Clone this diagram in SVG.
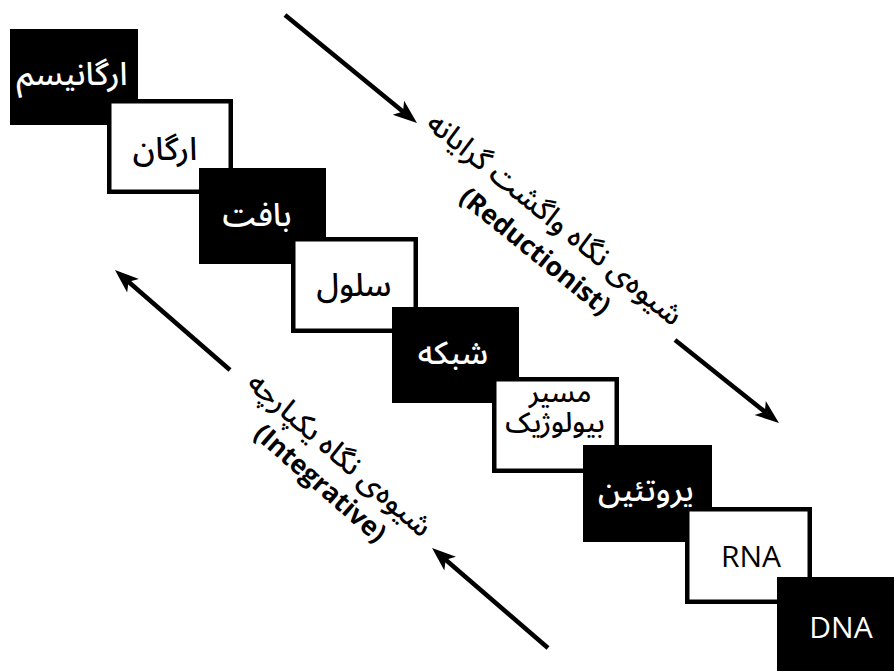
<svg xmlns="http://www.w3.org/2000/svg" width="894" height="671" viewBox="0 0 894 671">
<defs>
<style>
.blk{fill:#000}
.wht{fill:#fff;stroke:#000;stroke-width:4.5}
.fa{font-family:"Noto Sans Arabic","DejaVu Sans",sans-serif;font-size:32px;font-weight:500;text-anchor:middle}
.fa2{font-size:28px}
.en{font-family:"Open Sans","Noto Sans",sans-serif;font-size:30px;text-anchor:middle}
.w{fill:#fff}
.k{fill:#000}
.arr{stroke:#000;stroke-width:4.5;fill:none;marker-end:url(#ah)}
.lab{font-family:"Noto Sans Arabic","DejaVu Sans",sans-serif;font-size:29.5px;font-weight:500;text-anchor:middle;fill:#000}
.labe{font-family:"Open Sans","Noto Sans",sans-serif;font-weight:bold;font-size:26.5px;text-anchor:middle;fill:#000}
</style>
<marker id="ah" viewBox="0 0 24 20" refX="16" refY="10" markerWidth="24" markerHeight="20" markerUnits="userSpaceOnUse" orient="auto">
<path d="M0,1 L24,10 L0,19 L6,10 Z" fill="#000"/>
</marker>
</defs>
<rect width="894" height="671" fill="#fff"/>
<g id="organism"><rect class="blk" x="10" y="29" width="128" height="96"/><text class="fa w" x="72" y="85">ارگانیسم</text></g>
<g id="organ"><rect class="wht" x="109.25" y="101.25" width="121.5" height="90.5"/><text class="fa k" x="165" y="160">ارگان</text></g>
<g id="tissue"><rect class="blk" x="199" y="168" width="127" height="96"/><text class="fa w" x="257" y="226">بافت</text></g>
<g id="cell"><rect class="wht" x="293.25" y="239.25" width="122.5" height="91.5"/><text class="fa k" x="354" y="296">سلول</text></g>
<g id="network"><rect class="blk" x="392" y="307" width="127" height="96"/><text class="fa w" x="453" y="364">شبکه</text></g>
<g id="pathway"><rect class="wht" x="494.25" y="379.25" width="122.5" height="91.5"/><text class="fa fa2 k"><tspan x="560" y="402">مسیر</tspan><tspan x="555" y="432">بیولوژیک</tspan></text></g>
<g id="protein"><rect class="blk" x="583" y="445" width="129" height="97"/><text class="fa w" x="646" y="501">پروتئین</text></g>
<g id="rna"><rect class="wht" x="687.25" y="509.25" width="122.5" height="92.5"/><text class="en k" x="751" y="567">RNA</text></g>
<g id="dna"><rect class="blk" x="777" y="577" width="117" height="94"/><text class="en w" x="841" y="638">DNA</text></g>
<g id="connectors">
<line class="arr" x1="285" y1="15" x2="410.8" y2="117.9"/>
<line class="arr" x1="675" y1="340" x2="772.7" y2="418"/>
<line class="arr" x1="230" y1="370" x2="121" y2="275.2"/>
<line class="arr" x1="548" y1="648" x2="438.1" y2="553.2"/>
</g>
<g id="reductionist-label" transform="translate(545,236) rotate(39)">
<text class="lab" x="-3" y="-9.5">شیوه‌ی نگاه واگشت گرایانه</text>
<text class="labe" x="2" y="27">(Reductionist)</text>
</g>
<g id="integrative-label" transform="translate(330,469) rotate(41)">
<text class="lab" x="-2" y="-7.5">شیوه‌ی نگاه یکپارچه</text>
<text class="labe" x="2" y="26">(Integrative)</text>
</g>
</svg>
